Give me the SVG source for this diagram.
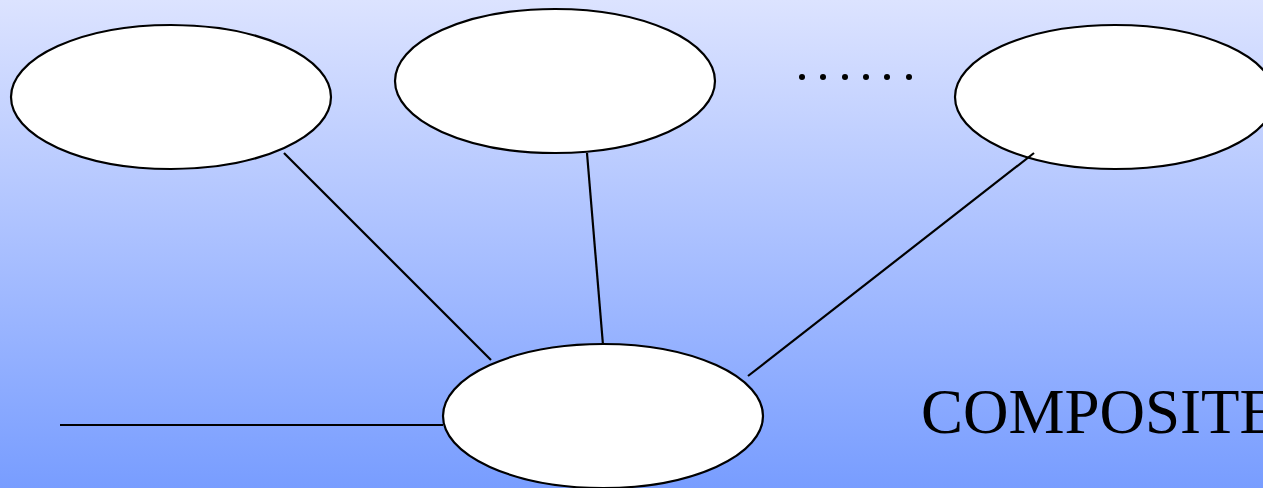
<svg xmlns="http://www.w3.org/2000/svg" width="1263" height="488" viewBox="0 0 1263 488">
<defs>
<linearGradient id="bg" x1="0" y1="0" x2="0" y2="1">
<stop offset="0" stop-color="#dce3ff"/>
<stop offset="1" stop-color="#789dff"/>
</linearGradient>
<style>
.node{fill:#fff;stroke:#000;stroke-width:2.2}
.conn line{stroke:#000;stroke-width:2.2}
.dot{fill:#000}
.lbl{font-family:"Liberation Serif",serif;font-size:63px;fill:#000}
</style>
</defs>
<rect width="1263" height="488" fill="url(#bg)"/>
<g id="node1"><ellipse class="node" cx="171" cy="97" rx="160" ry="72"/></g>
<g id="node2"><ellipse class="node" cx="555" cy="81" rx="160" ry="72"/></g>
<g id="node3"><ellipse class="node" cx="1115" cy="97" rx="160" ry="72"/></g>
<g id="node4"><ellipse class="node" cx="603" cy="416" rx="160" ry="72"/></g>
<g id="connectors" class="conn">
<line x1="284" y1="153" x2="491" y2="360"/>
<line x1="587" y1="153" x2="603" y2="345"/>
<line x1="1034" y1="153" x2="748" y2="376"/>
<line x1="60" y1="425" x2="443" y2="425"/>
</g>
<g id="dots">
<circle class="dot" cx="802" cy="77" r="3"/>
<circle class="dot" cx="823" cy="77" r="3"/>
<circle class="dot" cx="845" cy="77" r="3"/>
<circle class="dot" cx="866" cy="77" r="3"/>
<circle class="dot" cx="887" cy="77" r="3"/>
<circle class="dot" cx="909" cy="77" r="3"/>
</g>
<text class="lbl" x="921" y="433">COMPOSITE</text>
</svg>
